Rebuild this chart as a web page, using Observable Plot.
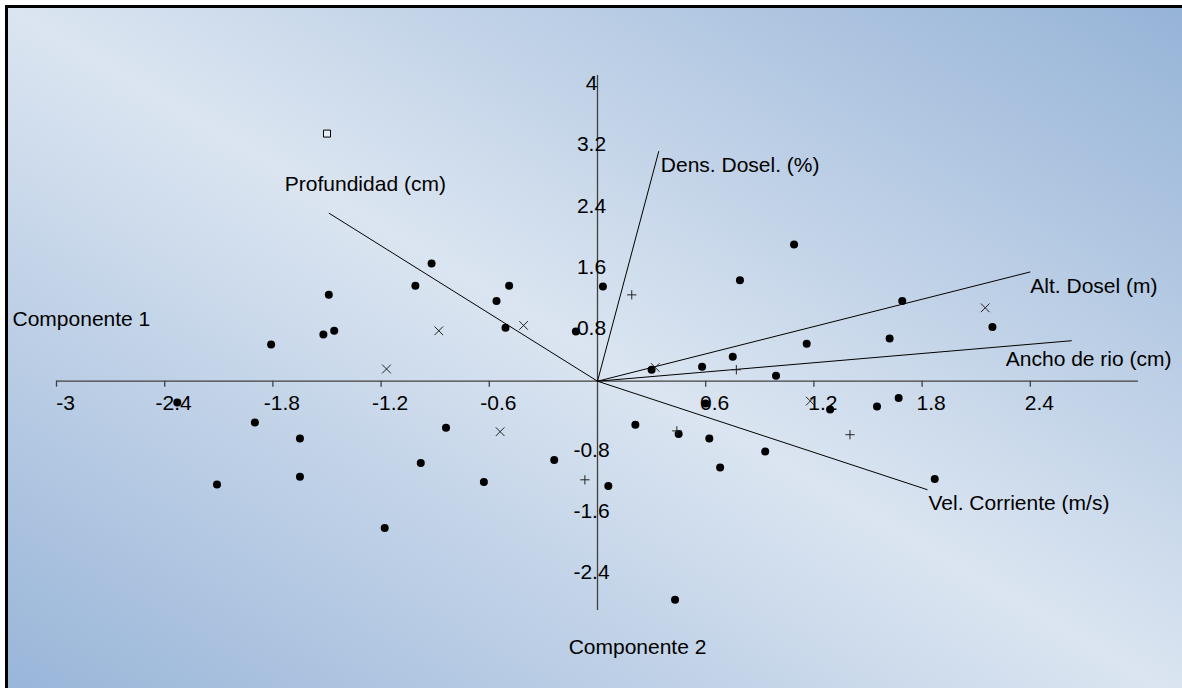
<!DOCTYPE html>
<html>
<head>
<meta charset="utf-8">
<script src="https://cdn.jsdelivr.net/npm/d3@7"></script>
<script src="https://cdn.jsdelivr.net/npm/@observablehq/plot@0.6"></script>
<style>
  html, body { margin: 0; padding: 0; background: #fff; }
  #wrap { position: relative; width: 1182px; height: 688px; overflow: hidden; background: #fff; }
  #bg { position: absolute; left: 5px; top: 5px; width: 1190px; height: 700px;
        border-left: 3px solid #000; border-top: 3px solid #000;
        background: linear-gradient(to top right, #97b4d8 0%, #dbe5f1 50%, #95b3d7 100%); }
  #chart { position: absolute; left: 0; top: 0; }
</style>
</head>
<body>
<div id="wrap"><div id="bg"></div><div id="chart"></div></div>
<script>
// ---- data ----
const axisTitles = ["Componente 1", "Componente 2"];
const xTicks = [-3, -2.4, -1.8, -1.2, -0.6, 0.6, 1.2, 1.8, 2.4];
const yTicks = [4, 3.2, 2.4, 1.6, 0.8, -0.8, -1.6, -2.4];

const vectorNames = ["Profundidad (cm)", "Dens. Dosel. (%)", "Alt. Dosel (m)", "Ancho de rio (cm)", "Vel. Corriente (m/s)"];
const vectorX = [-1.49, 0.34, 2.40, 2.63, 1.83];
const vectorY = [2.20, 3.01, 1.43, 0.53, -1.42];

const dotX = [-1.49, -1.52, -1.46, -1.81, -0.92, -1.01, -0.49, -0.56, -0.51, -0.12, 0.03, 0.79, 1.09, 1.69, 2.19, 1.62, 1.16, 0.99, 0.75, 0.58, 0.30,
              -2.33, -1.90, -1.65, -1.65, -2.11, -1.18, -0.84, -0.98, -0.63, -0.24, 0.06, 0.21, 0.45, 0.62, 0.60, 0.68, 0.93, 1.29, 1.55, 1.67, 1.87, 0.43];
const dotY = [1.13, 0.61, 0.66, 0.48, 1.54, 1.25, 1.25, 1.05, 0.70, 0.65, 1.24, 1.32, 1.79, 1.05, 0.71, 0.56, 0.49, 0.07, 0.32, 0.19, 0.15,
              -0.28, -0.54, -0.75, -1.25, -1.35, -1.92, -0.61, -1.07, -1.32, -1.03, -1.37, -0.57, -0.69, -0.75, -0.29, -1.13, -0.92, -0.37, -0.33, -0.22, -1.28, -2.86];

const timesX = [-1.17, -0.88, -0.41, 0.32, 2.15, 1.18, -0.54];
const timesY = [0.16, 0.66, 0.73, 0.18, 0.96, -0.26, -0.66];

const plusX = [0.19, 0.77, 0.44, 1.40, -0.07];
const plusY = [1.13, 0.15, -0.65, -0.70, -1.29];

const squareX = [-1.50];
const squareY = [3.24];

// ---- build tables ----
const zip = (xs, ys) => xs.map((x, i) => ({x, y: ys[i]}));
const dots = zip(dotX, dotY);
const times = zip(timesX, timesY);
const pluses = zip(plusX, plusY);
const squares = zip(squareX, squareY);
const vectors = vectorNames.map((name, i) => ({name, x: vectorX[i], y: vectorY[i]}));

// label placement (pixels) relative to arrow tips
const vectorLabelLayout = [
  {dx: -44, dy: -29},
  {dx: 2, dy: 14},
  {dx: 0, dy: 14},
  {dx: -66, dy: 19},
  {dx: 1, dy: 14}
];

const FONT = "'Liberation Sans', Arial, sans-serif";
const FS = 21;
const axisColor = "#404040";

const marks = [
  // axes
  Plot.ruleY([0], {x1: -3, x2: 3, stroke: axisColor, strokeWidth: 1.3}),
  Plot.ruleX([0], {y1: -3, y2: 4, stroke: axisColor, strokeWidth: 1.3}),
  Plot.ruleX(xTicks, {x: d => d, y1: 0, y2: 0, insetBottom: -6, stroke: axisColor, strokeWidth: 1.3}),
  Plot.text(xTicks, {x: d => d, y: 0, text: d => String(d), dx: 9, dy: 22, fontSize: FS, fill: "#000", textAnchor: "middle"}),
  Plot.text(yTicks, {x: 0, y: d => d, text: d => String(d), dx: -6, dy: 8, fontSize: FS, fill: "#000", textAnchor: "middle"}),
  Plot.text([axisTitles[0]], {x: -3, y: 0, text: d => d, dx: -44, dy: -62, fontSize: FS, fill: "#000", textAnchor: "start"}),
  Plot.text([axisTitles[1]], {x: 0, y: -3, text: d => d, dx: 40, dy: 37, fontSize: FS, fill: "#000", textAnchor: "middle"}),
  // vectors
  Plot.link(vectors, {x1: 0, y1: 0, x2: "x", y2: "y", stroke: "#000", strokeWidth: 1}),
  ...vectors.map((v, i) => Plot.text([v], {x: "x", y: "y", text: "name", dx: vectorLabelLayout[i].dx, dy: vectorLabelLayout[i].dy,
      fontSize: FS, fill: "#000", textAnchor: "start"})),
  // points
  Plot.dot(dots, {x: "x", y: "y", r: 4, fill: "#000", stroke: "none"}),
  Plot.dot(times, {x: "x", y: "y", r: 4, symbol: "times", stroke: "#222", strokeWidth: 1}),
  Plot.dot(pluses, {x: "x", y: "y", r: 3.1, symbol: "plus", stroke: "#222", strokeWidth: 1}),
  Plot.dot(squares, {x: "x", y: "y", r: 3.95, symbol: "square", fill: "#e8eef6", stroke: "#000", strokeWidth: 1})
];

const chart = Plot.plot({
  width: 1182,
  height: 688,
  margin: 0,
  style: {background: "transparent", fontFamily: FONT, fontSize: FS + "px", overflow: "visible"},
  x: {domain: [-3, 3], range: [56, 1138], axis: null},
  y: {domain: [-3, 4], range: [610, 75], axis: null},
  marks
});
document.getElementById("chart").appendChild(chart);
</script>
</body>
</html>
